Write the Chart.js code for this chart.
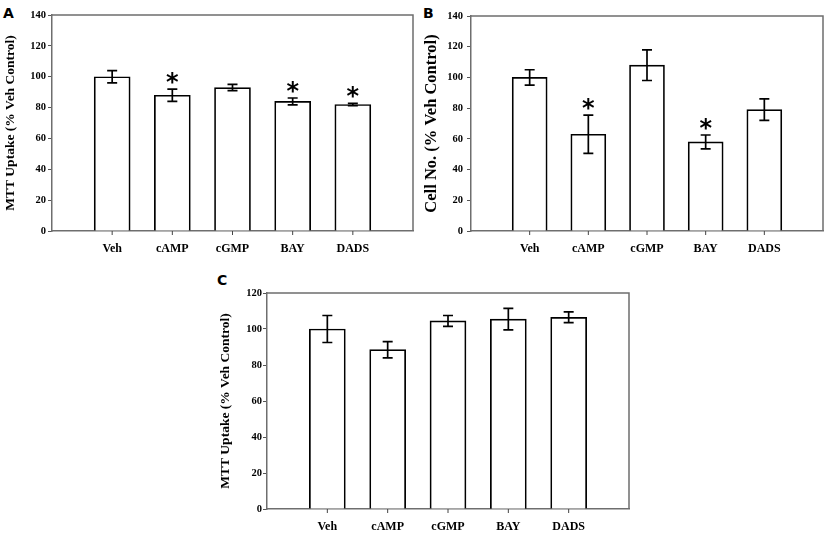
<!DOCTYPE html>
<html>
<head>
<meta charset="utf-8">
<script src="https://cdn.jsdelivr.net/npm/chart.js@4.4.0/dist/chart.umd.min.js"></script>
<style>
body { margin: 0; background: #fff; width: 827px; height: 541px; position: relative; overflow: hidden; }
canvas { position: absolute; }
.letra { position: absolute; font: bold 14px "DejaVu Sans"; color: #000; }
</style>
</head>
<body>
<div class="letra" style="left:3px;top:5px">A</div>
<div class="letra" style="left:423px;top:5px">B</div>
<div class="letra" style="left:217px;top:272px">C</div>
<canvas id="graficoA" width="424" height="261" style="left:0;top:0"></canvas>
<canvas id="graficoB" width="414" height="261" style="left:420px;top:0"></canvas>
<canvas id="graficoC" width="430" height="261" style="left:210px;top:278px"></canvas>
<script>
//DATOS
const categorias = ["Veh", "cAMP", "cGMP", "BAY", "DADS"];

const mttA = [100, 88, 93, 84, 82];
const errorA = [4, 4, 2, 2.2, 0.8];
const asteriscoA = [false, true, false, true, true];

const celulasB = [100, 63, 108, 58, 79];
const errorB = [5, 12.5, 10, 4.5, 7];
const asteriscoB = [false, true, false, true, false];

const mttC = [100, 88.5, 104.5, 105.5, 106.5];
const errorC = [7.5, 4.5, 3, 6, 3];
const asteriscoC = [false, false, false, false, false];

const ticksA = [0, 20, 40, 60, 80, 100, 120, 140];
const ticksB = [0, 20, 40, 60, 80, 100, 120, 140];
const ticksC = [0, 20, 40, 60, 80, 100, 120];

const GRIS = "#6e6e6e";
const SERIF = "'Liberation Serif', 'Times New Roman', serif";

//PLUGIN: barras de error, asteriscos y marco
const barrasError = {
  id: "barrasError",
  afterDatasetsDraw(chart, args, opts) {
    const ctx = chart.ctx;
    const y = chart.scales.y;
    const meta = chart.getDatasetMeta(0);
    ctx.save();
    ctx.strokeStyle = "#000";
    ctx.lineWidth = 1.7;
    meta.data.forEach((barra, i) => {
      const v = opts.valores[i];
      const e = opts.errores[i];
      const arriba = y.getPixelForValue(v + e);
      const abajo = y.getPixelForValue(v - e);
      ctx.beginPath();
      ctx.moveTo(barra.x, arriba);
      ctx.lineTo(barra.x, abajo);
      ctx.moveTo(barra.x - 5, arriba);
      ctx.lineTo(barra.x + 5, arriba);
      ctx.moveTo(barra.x - 5, abajo);
      ctx.lineTo(barra.x + 5, abajo);
      ctx.stroke();
      if (opts.asteriscos[i]) {
        ctx.fillStyle = "#000";
        ctx.font = "bold 24px 'DejaVu Sans'";
        ctx.textAlign = "center";
        ctx.textBaseline = "middle";
        ctx.fillText("*", barra.x, arriba - 5);
      }
    });
    // marcas bajo cada categoria
    const x = chart.scales.x;
    const a = chart.chartArea;
    ctx.strokeStyle = "#444";
    ctx.lineWidth = 1;
    categorias.forEach((c, i) => {
      const px = x.getPixelForValue(i + 1);
      ctx.beginPath();
      ctx.moveTo(px, a.bottom);
      ctx.lineTo(px, a.bottom + 4);
      ctx.stroke();
    });
    ctx.strokeStyle = GRIS;
    ctx.lineWidth = 1.5;
    ctx.beginPath();
    ctx.moveTo(a.left, a.top);
    ctx.lineTo(a.right, a.top);
    ctx.lineTo(a.right, a.bottom);
    ctx.stroke();
    ctx.restore();
  },
};

function crearGrafico(id, valores, errores, asteriscos, ticksY, titulo, p) {
  const config = {
    type: "bar",
    data: {
      datasets: [
        {
          data: valores.map((v, i) => ({ x: i + 1, y: v })),
          backgroundColor: "#fff",
          borderColor: "#000",
          borderWidth: 1.7,
          borderSkipped: "start",
          barThickness: p.barra,
        },
      ],
    },
    plugins: [barrasError],
    options: {
      responsive: false,
      animation: false,
      layout: { padding: { top: p.arriba, right: 3, left: 0, bottom: 0 } },
      plugins: {
        legend: { display: false },
        tooltip: { enabled: false },
        barrasError: { valores: valores, errores: errores, asteriscos: asteriscos },
      },
      scales: {
        x: {
          type: "linear",
          offset: false,
          min: 0,
          max: categorias.length + 1,
          afterFit: (s) => { s.height = 30; },
          afterBuildTicks: (s) => {
            s.ticks = [];
            for (let i = 0; i <= categorias.length + 1; i++) s.ticks.push({ value: i });
          },
          ticks: {
            autoSkip: false,
            maxRotation: 0,
            padding: 11,
            color: "#000",
            font: { family: SERIF, weight: "bold", size: 12 },
            callback: (v) => categorias[v - 1] || "",
          },
          grid: { offset: false, drawOnChartArea: false, drawTicks: false },
          border: { color: GRIS, width: 1.5 },
        },
        y: {
          min: 0,
          max: ticksY[ticksY.length - 1],
          afterFit: (s) => { s.width = p.anchoY; },
          afterBuildTicks: (s) => { s.ticks = ticksY.map((t) => ({ value: t })); },
          ticks: {
            padding: p.padTicks,
            color: "#000",
            font: { family: SERIF, weight: "bold", size: 10.5 },
          },
          grid: { drawOnChartArea: false, tickLength: 4, tickColor: "#555" },
          border: { color: GRIS, width: 1.5 },
          title: {
            display: true,
            text: titulo,
            color: "#000",
            font: { family: SERIF, weight: "bold", size: p.tamTitulo },
            padding: { top: p.padTitulo, bottom: 0 },
          },
        },
      },
    },
  };
  return new Chart(document.getElementById(id), config);
}

crearGrafico("graficoA", mttA, errorA, asteriscoA, ticksA, "MTT Uptake (% Veh Control)",
  { arriba: 15, anchoY: 52, padTicks: 2, tamTitulo: 13.5, padTitulo: 2, barra: 36 });
crearGrafico("graficoB", celulasB, errorB, asteriscoB, ticksB, "Cell No. (% Veh Control)",
  { arriba: 16, anchoY: 51, padTicks: 4, tamTitulo: 16.5, padTitulo: 2, barra: 35 });
crearGrafico("graficoC", mttC, errorC, asteriscoC, ticksC, "MTT Uptake (% Veh Control)",
  { arriba: 15, anchoY: 57, padTicks: 1, tamTitulo: 13.5, padTitulo: 7, barra: 36 });
</script>
</body>
</html>
